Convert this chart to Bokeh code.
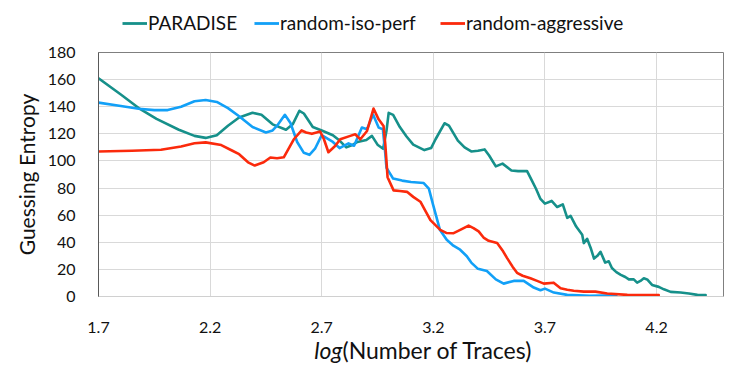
from bokeh.plotting import figure
from bokeh.models import Legend, LegendItem, Label, FixedTicker, Range1d
from bokeh.layouts import column
from bokeh.embed import file_html
from bokeh.resources import INLINE

# ---------------- data ----------------
paradise_x = [1.70, 1.80, 1.88, 1.96, 2.06, 2.13, 2.18, 2.23, 2.28, 2.33, 2.39, 2.43, 2.48, 2.54,
              2.57, 2.60, 2.62, 2.66, 2.70, 2.75, 2.78, 2.81, 2.84, 2.86, 2.90, 2.925, 2.95, 2.975,
              2.99, 3.00, 3.02, 3.05, 3.08, 3.11, 3.16, 3.19, 3.21, 3.25, 3.27, 3.31, 3.34, 3.37,
              3.40, 3.43, 3.45, 3.48, 3.51, 3.55, 3.58, 3.62, 3.64, 3.66, 3.68, 3.70, 3.73, 3.755,
              3.78, 3.80, 3.815, 3.84, 3.867, 3.874, 3.889, 3.905, 3.92, 3.935, 3.949, 3.97, 3.986,
              4.00, 4.02, 4.04, 4.06, 4.076, 4.098, 4.113, 4.128, 4.143, 4.158, 4.18, 4.21, 4.233,
              4.263, 4.308, 4.345, 4.383, 4.42]
paradise_y = [161, 149, 139, 131, 123, 118.5, 117, 119, 126, 132, 135.5, 134, 127, 123,
              127, 137, 135, 125, 122.5, 119, 115, 110, 112, 114, 115.5, 118.5, 112, 109,
              122, 135.5, 134, 125, 118, 112, 108, 109.5, 116, 127.8, 126, 115, 110, 107,
              107.5, 108.5, 104, 96, 98, 93, 92.5, 92.5, 86, 79.5, 72, 68.5, 70.5, 66,
              68, 58, 59.5, 51.6, 45.5, 39.4, 42.6, 35.8, 28, 30, 33, 25, 26,
              21, 18, 16, 14.4, 12.6, 12.6, 10.2, 11.5, 13.4, 12.6, 8.5, 7.1, 5.3,
              3.4, 2.9, 2.2, 1.2, 1.0]

iso_x = [1.70, 1.80, 1.88, 1.95, 2.01, 2.07, 2.13, 2.18, 2.23, 2.28, 2.33, 2.39, 2.45, 2.48,
         2.50, 2.535, 2.56, 2.59, 2.62, 2.645, 2.67, 2.70, 2.75, 2.78, 2.82, 2.845, 2.88, 2.903,
         2.93, 2.955, 2.974, 2.985, 2.99, 3.02, 3.06, 3.10, 3.157, 3.18, 3.20, 3.23, 3.26, 3.29,
         3.32, 3.35, 3.37, 3.40, 3.44, 3.48, 3.515, 3.56, 3.605, 3.65, 3.68, 3.70, 3.74, 3.80,
         3.90, 4.02]
iso_y = [143, 140.5, 138.5, 137.5, 137.5, 140, 144, 145, 143.5, 139, 133, 125, 121, 122.5,
         126, 134, 128, 114, 106, 104.5, 109, 119, 114, 109.5, 113, 111.2, 124.6, 123.4,
         134.3, 124.6, 123.4, 105, 95, 87, 85.5, 84.5, 83.7, 79.6, 67, 49, 41.8, 37.5,
         34.5, 29.7, 25, 20.4, 18.8, 12.6, 9.5, 11.5, 11.5, 6.6, 4.6, 5.8, 2.9, 1.2,
         0.6, 0.8]

aggr_x = [1.70, 1.85, 1.98, 2.07, 2.13, 2.18, 2.25, 2.30, 2.33, 2.37, 2.40, 2.44, 2.47, 2.50,
          2.53, 2.555, 2.575, 2.61, 2.63, 2.656, 2.693, 2.71, 2.73, 2.76, 2.783, 2.828, 2.85,
          2.873, 2.903, 2.932, 2.955, 2.977, 2.985, 2.995, 3.022, 3.05, 3.082, 3.11, 3.142,
          3.187, 3.231, 3.26, 3.291, 3.325, 3.358, 3.38, 3.403, 3.425, 3.448, 3.486, 3.51,
          3.53, 3.555, 3.575, 3.60, 3.635, 3.665, 3.695, 3.739, 3.77, 3.80, 3.829, 3.874,
          3.926, 3.979, 4.069, 4.21]
aggr_y = [107, 107.5, 108.3, 110.7, 113, 113.7, 111.7, 107.5, 105, 99, 96.6, 99, 102.5, 102,
          102.7, 110, 116, 122.5, 121, 120, 121.7, 116, 106.4, 111, 116, 118.5, 119.7,
          116, 122.1, 138.7, 130.7, 125.8, 112, 88, 78.3, 77.8, 77.2, 73.5, 69.9,
          56.4, 49.1, 46.8, 46.7, 49.5, 52.3, 50.5, 48, 43.5, 41.1, 39.4, 34,
          28.5, 22, 17.5, 15.3, 13.4, 11.5, 9.5, 10.2, 6.1, 5, 4.2, 3.6,
          3.6, 2.2, 1.2, 1.0]

series_names = ["PARADISE", "random-iso-perf", "random-aggressive"]
series_colors = ["#16908a", "#12a0f7", "#fb2a0c"]

x_ticks = [1.7, 2.2, 2.7, 3.2, 3.7, 4.2]
x_tick_labels = ["1.7", "2.2", "2.7", "3.2", "3.7", "4.2"]
y_ticks = [0, 20, 40, 60, 80, 100, 120, 140, 160, 180]
x_title_italic = "log"
x_title_rest = "(Number of Traces)"
y_title = "Guessing Entropy"

FONT = "Lato"
TXT = "#111111"
W = 731
BL, BR = 98, 8           # left / right borders shared by all stacked figures

# layout: horizontal offsets of the three legend entries from the frame's left edge
legend_offsets = [24, 156, 342]


def strip(h):
    f = figure(width=W, height=h, output_backend="svg", toolbar_location=None,
               x_range=Range1d(BL, W - BR), y_range=Range1d(0, h),
               x_axis_type=None, y_axis_type=None,
               min_border_left=BL, min_border_right=BR, min_border_top=0, min_border_bottom=0,
               background_fill_color="white", border_fill_color="white")
    f.outline_line_color = None
    f.grid.visible = False
    return f


# ---------------- legend strip (top) ----------------
top = strip(42)
nan = float("nan")
for name, col, off in zip(series_names, series_colors, legend_offsets):
    r = top.line([nan], [nan], line_color=col, line_width=2.8)
    lg = Legend(items=[LegendItem(label=name, renderers=[r])],
                orientation="horizontal", location=(off, 8), padding=3, margin=0,
                glyph_width=25, glyph_height=20, label_standoff=1,
                label_text_font=FONT, label_text_font_size="19px", label_text_color=TXT,
                border_line_color=None, background_fill_alpha=0)
    top.add_layout(lg)

# ---------------- main plot ----------------
p = figure(width=W, height=293, output_backend="svg", toolbar_location=None,
           x_range=Range1d(1.7, 4.5), y_range=Range1d(0, 180),
           min_border_left=BL, min_border_right=BR, min_border_top=10, min_border_bottom=36,
           background_fill_color="white", border_fill_color="white")
p.outline_line_color = "#7f7f7f"
p.outline_line_width = 1

for xs, ys, col in [(paradise_x, paradise_y, series_colors[0]),
                    (iso_x, iso_y, series_colors[1]),
                    (aggr_x, aggr_y, series_colors[2])]:
    p.line(xs, ys, line_color=col, line_width=2.6, line_join="round", line_cap="round")

p.xaxis.ticker = FixedTicker(ticks=x_ticks)
p.xaxis.major_label_overrides = {t: l for t, l in zip(x_ticks, x_tick_labels)}
p.yaxis.ticker = FixedTicker(ticks=y_ticks)
for ax in (p.xaxis, p.yaxis):
    ax.major_tick_line_color = None
    ax.minor_tick_line_color = None
    ax.major_label_text_font = FONT
    ax.major_label_text_font_size = "16px"
    ax.major_label_text_color = TXT
p.xaxis.axis_line_color = "#d0d0d0"
p.yaxis.axis_line_color = "#595959"
p.xaxis.major_label_standoff = 19
p.yaxis.major_label_standoff = 17

p.yaxis.axis_label = y_title
p.yaxis.axis_label_text_font = FONT
p.yaxis.axis_label_text_font_size = "21px"
p.yaxis.axis_label_text_font_style = "normal"
p.yaxis.axis_label_text_color = TXT
p.yaxis.axis_label_standoff = 6

p.xgrid.grid_line_color = "#d9d9d9"
p.ygrid.grid_line_color = "#d9d9d9"
p.xgrid.ticker = FixedTicker(ticks=x_ticks)
p.ygrid.ticker = FixedTicker(ticks=y_ticks)

# ---------------- x-axis title strip (bottom) ----------------
bot = strip(28)
bot.add_layout(Label(x=342, y=14, text=x_title_italic, text_font=FONT, text_font_size="23px",
                     text_font_style="italic", text_align="right", text_baseline="middle",
                     text_color=TXT))
bot.add_layout(Label(x=342, y=14, text=x_title_rest, text_font=FONT, text_font_size="23px",
                     text_align="left", text_baseline="middle", text_color=TXT))

layout = column(top, p, bot, spacing=0)
open("out.html", "w").write(file_html(layout, INLINE))
